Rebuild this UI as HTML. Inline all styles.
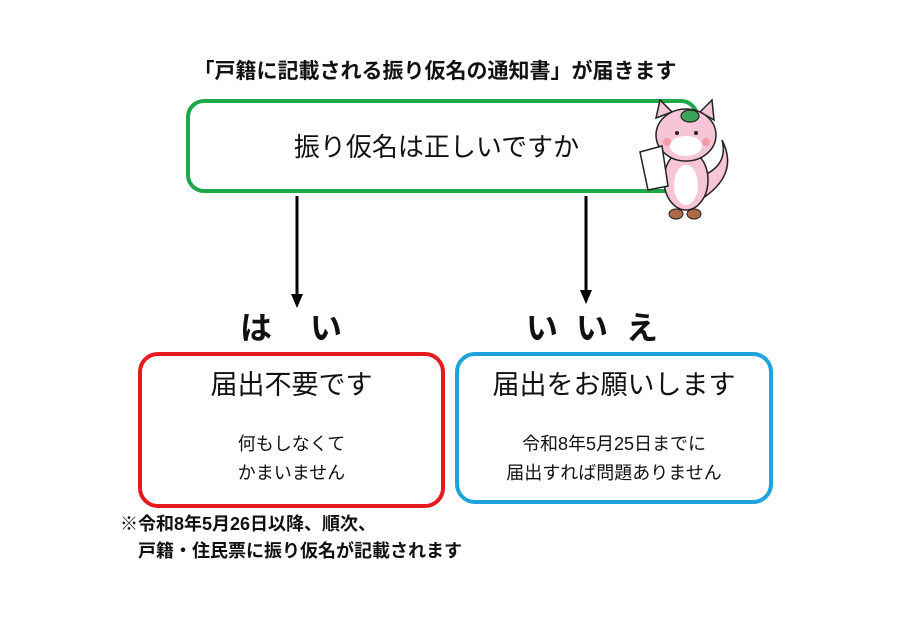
<!DOCTYPE html>
<html><head><meta charset="utf-8"><style>
body{margin:0;width:900px;height:636px;background:#fff;position:relative;overflow:hidden;font-family:"Liberation Sans","Noto Sans CJK JP",sans-serif;color:#111}
.a{position:absolute;white-space:nowrap}
.box{position:absolute;box-sizing:border-box;background:#fff}
.c{text-align:center}
</style></head><body>
<div class="a c" style="left:180px;width:510px;top:58px;font-size:21px;font-weight:bold;line-height:28px">「戸籍に記載される振り仮名の通知書」が届きます</div>
<div class="box" style="left:186px;top:99px;width:513px;height:94px;border:4px solid #1fa84a;border-radius:18px"></div>
<div class="a c" style="left:180px;width:513px;top:129px;font-size:26px;line-height:36px">振り仮名は正しいですか</div>
<svg class="a" style="left:0;top:0" width="900" height="636">
<line x1="297" y1="196" x2="297" y2="296" stroke="#000" stroke-width="3"/>
<polygon points="291,294 303,294 297,308" fill="#000"/>
<line x1="586" y1="196" x2="586" y2="292" stroke="#000" stroke-width="3"/>
<polygon points="580,290 592,290 586,304" fill="#000"/>
<path d="M690 180 Q730 170 722 140 Q740 175 700 200 Z" fill="#f6c5d8" stroke="#222" stroke-width="1.5"/>
<ellipse cx="686" cy="180" rx="22" ry="30" fill="#f6c5d8" stroke="#222" stroke-width="1.5"/>
<ellipse cx="686" cy="185" rx="12" ry="20" fill="#fff"/>
<path d="M656 118 L660 100 L672 112 Z M700 112 L712 100 L714 120 Z" fill="#f6c5d8" stroke="#222" stroke-width="1.5"/>
<ellipse cx="686" cy="135" rx="30" ry="26" fill="#f6c5d8" stroke="#222" stroke-width="1.5"/>
<ellipse cx="686" cy="146" rx="16" ry="10" fill="#fff"/>
<circle cx="677" cy="133" r="2" fill="#222"/><circle cx="696" cy="133" r="2" fill="#222"/>
<circle cx="667" cy="142" r="4" fill="#f59aa8"/><circle cx="706" cy="142" r="4" fill="#f59aa8"/>
<ellipse cx="690" cy="116" rx="9" ry="6" fill="#3aa55a" stroke="#222" stroke-width="1.2"/>
<polygon points="640,152 662,146 668,186 648,190" fill="#fff" stroke="#222" stroke-width="1.5"/>
<ellipse cx="676" cy="214" rx="7" ry="5" fill="#b06a4a" stroke="#222"/><ellipse cx="694" cy="214" rx="7" ry="5" fill="#b06a4a" stroke="#222"/>
</svg>
<div class="a" style="left:240px;top:308px;font-size:32px;font-weight:bold;line-height:40px">は<span style="margin-left:38px">い</span></div>
<div class="a" style="left:526px;top:308px;font-size:32px;font-weight:bold;line-height:40px;letter-spacing:18px">いいえ</div>
<div class="box" style="left:138px;top:352px;width:307px;height:156px;border:4px solid #e41a1c;border-radius:20px"></div>
<div class="a c" style="left:138px;width:307px;top:368px;font-size:27px;line-height:34px">届出不要です</div>
<div class="a c" style="left:138px;width:307px;top:430px;font-size:18px;line-height:29px">何もしなくて<br>かまいません</div>
<div class="box" style="left:455px;top:352px;width:318px;height:152px;border:4px solid #1fa3dc;border-radius:20px"></div>
<div class="a c" style="left:455px;width:318px;top:368px;font-size:27px;line-height:34px">届出をお願いします</div>
<div class="a c" style="left:455px;width:318px;top:430px;font-size:18px;line-height:29px">令和8年5月25日までに<br>届出すれば問題ありません</div>
<div class="a" style="left:120px;top:511px;font-size:18px;font-weight:bold;line-height:27px">※令和8年5月26日以降、順次、<br>　戸籍・住民票に振り仮名が記載されます</div>
</body></html>
